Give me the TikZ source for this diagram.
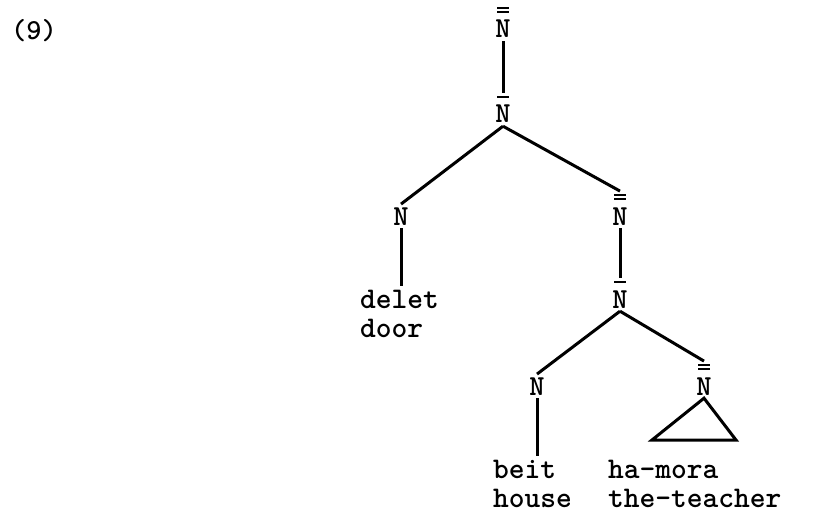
\documentclass[tikz,border=0pt]{standalone}
\usepackage{fontspec}
\newcommand{\barline}[1]{\rlap{\hspace*{0.06em}\raisebox{#1}{\rule{0.41em}{1.7pt}}}}
\newcommand{\bN}{\leavevmode\barline{0.86em}N}
\newcommand{\bbN}{\leavevmode\barline{0.86em}\barline{1.0em}N}
\begin{document}
\begin{tikzpicture}[x=1pt,y=-1pt,
  cat/.style={font=\ttfamily\bfseries\fontsize{29}{29}\selectfont, inner sep=3pt, anchor=base},
  word/.style={font=\ttfamily\bfseries\fontsize{30}{29}\selectfont, inner sep=0pt, anchor=base west, align=left},
  edge/.style={line width=3pt}]
\useasboundingbox (0,0) rectangle (830,516);
\node[word, font=\ttfamily\bfseries\fontsize{29}{29}\selectfont] (ex) at (11,40) {(9)};
\node[cat] (top) at (503,38) {\bbN};
\node[cat] (nb1) at (503,123) {\bN};
\node[cat] (nl) at (401,225) {N};
\node[cat] (nr) at (620,225) {\bbN};
\node[cat] (nb2) at (620,308) {\bN};
\node[cat] (nl2) at (537,395) {N};
\node[cat] (nr2) at (704,395) {\bbN};
\node[word] (w1) at (360,337) {delet\\door};
\node[word] (w2) at (493,507) {beit\\house};
\node[word] (w3) at (608,507) {ha-mora\\the-teacher};
\coordinate (tl) at (652,440);
\coordinate (tr) at (736,440);
\draw[edge] (top.south) -- (nb1.north);
\draw[edge] (nb1.south) -- (nl.north);
\draw[edge] (nb1.south) -- (nr.north);
\draw[edge, shorten >=3pt] (nl.south) -- (w1.north -| nl.south);
\draw[edge] (nr.south) -- (nb2.north);
\draw[edge] (nb2.south) -- (nl2.north);
\draw[edge] (nb2.south) -- (nr2.north);
\draw[edge, shorten >=3pt] (nl2.south) -- (w2.north -| nl2.south);
\draw[edge, line join=miter] (nr2.south) -- (tr) -- (tl) -- cycle;
\end{tikzpicture}
\end{document}
